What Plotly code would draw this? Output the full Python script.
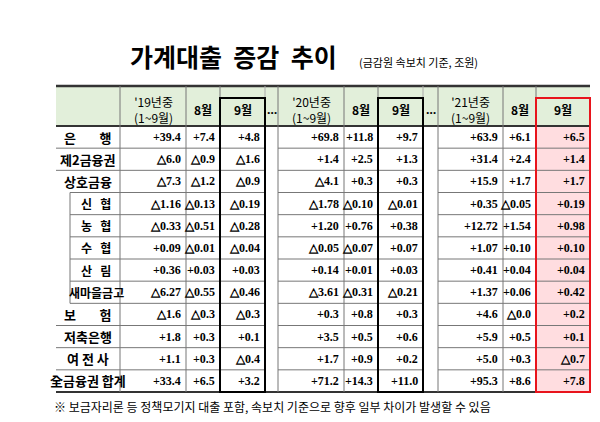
import plotly.graph_objects as go

rows = ["은        행", "제2금융권", "상호금융", "신   협", "농   협", "수   협", "산   림",
        "새마을금고", "보        험", "저축은행", "여 전 사", "全금융권 합계"]
col_heads = ["'19년중<br>(1~9월)", "8월", "9월", "'20년중<br>(1~9월)", "8월", "9월",
             "'21년중<br>(1~9월)", "8월", "9월"]
y19 = ["+39.4", "△6.0", "△7.3", "△1.16", "△0.33", "+0.09", "+0.36", "△6.27", "△1.6", "+1.8", "+1.1", "+33.4"]
aug19 = ["+7.4", "△0.9", "△1.2", "△0.13", "△0.51", "△0.01", "+0.03", "△0.55", "△0.3", "+0.3", "+0.3", "+6.5"]
sep19 = ["+4.8", "△1.6", "△0.9", "△0.19", "△0.28", "△0.04", "+0.03", "△0.46", "△0.3", "+0.1", "△0.4", "+3.2"]
y20 = ["+69.8", "+1.4", "△4.1", "△1.78", "+1.20", "△0.05", "+0.14", "△3.61", "+0.3", "+3.5", "+1.7", "+71.2"]
aug20 = ["+11.8", "+2.5", "+0.3", "△0.10", "+0.76", "△0.07", "+0.01", "△0.31", "+0.8", "+0.5", "+0.9", "+14.3"]
sep20 = ["+9.7", "+1.3", "+0.3", "△0.01", "+0.38", "+0.07", "+0.03", "△0.21", "+0.3", "+0.6", "+0.2", "+11.0"]
y21 = ["+63.9", "+31.4", "+15.9", "+0.35", "+12.72", "+1.07", "+0.41", "+1.37", "+4.6", "+5.9", "+5.0", "+95.3"]
aug21 = ["+6.1", "+2.4", "+1.7", "△0.05", "+1.54", "+0.10", "+0.04", "+0.06", "△0.0", "+0.5", "+0.3", "+8.6"]
sep21 = ["+6.5", "+1.4", "+1.7", "+0.19", "+0.98", "+0.10", "+0.04", "+0.42", "+0.2", "+0.1", "△0.7", "+7.8"]
cols = [y19, aug19, sep19, y20, aug20, sep20, y21, aug21, sep21]
indented = [3, 4, 5, 6, 7]

# layout geometry (pixels)
xb = [48, 112, 178, 212, 257, 270, 336, 370, 415, 430, 495, 528, 582]
data_cols = [(1, 2), (2, 3), (3, 4), (5, 6), (6, 7), (7, 8), (9, 10), (10, 11), (11, 12)]
y_top, y_head, y_bot = 78, 118, 384
rh = (y_bot - y_head) / len(rows)
font = "Noto Sans CJK KR"

fig = go.Figure()
shapes, ann = [], []
shapes.append(dict(type="rect", x0=xb[0], x1=xb[-1], y0=y_top, y1=y_head, fillcolor="#e2efda", line_width=0, layer="below"))
shapes.append(dict(type="rect", x0=xb[11], x1=xb[12], y0=y_head, y1=y_bot, fillcolor="#ffdde0", line_width=0, layer="below"))
shapes.append(dict(type="line", x0=xb[0], x1=xb[-1], y0=y_top, y1=y_top, line=dict(color="#333", width=2.5)))
shapes.append(dict(type="line", x0=xb[0], x1=xb[-1], y0=y_head, y1=y_head, line=dict(color="#333", width=2)))
shapes.append(dict(type="line", x0=xb[0], x1=xb[-1], y0=y_bot, y1=y_bot, line=dict(color="#333", width=2)))
for i in range(1, len(rows)):
    y = y_head + i * rh
    x0 = 62 if (i - 1) in indented or i in indented else xb[0]
    for a, b in [(x0, xb[4]), (xb[5], xb[8]), (xb[9], xb[12])]:
        shapes.append(dict(type="line", x0=a, x1=b, y0=y, y1=y, line=dict(color="#777", width=1)))
for i in [1, 2, 3, 5, 6, 7, 9, 10, 11]:
    shapes.append(dict(type="line", x0=xb[i], x1=xb[i], y0=y_top, y1=y_bot, line=dict(color="#777", width=1)))
for i in [4, 8]:
    shapes.append(dict(type="line", x0=xb[i], x1=xb[i], y0=y_top, y1=y_bot, line=dict(color="#aaa", width=1)))
shapes.append(dict(type="line", x0=62, x1=62, y0=y_head + 3 * rh, y1=y_head + 8 * rh, line=dict(color="#777", width=1)))
shapes.append(dict(type="rect", x0=xb[3], x1=xb[4], y0=y_top + 12, y1=y_bot, line=dict(color="black", width=2)))
shapes.append(dict(type="rect", x0=xb[7], x1=xb[8], y0=y_top + 12, y1=y_bot, line=dict(color="black", width=2)))
shapes.append(dict(type="rect", x0=xb[11], x1=xb[12], y0=y_top + 12, y1=y_bot, line=dict(color="#e8141c", width=2)))

for j, (a, b) in enumerate(data_cols):
    head = col_heads[j] if "<br>" in col_heads[j] else "<b>" + col_heads[j] + "</b>"
    ann.append(dict(x=(xb[a] + xb[b]) / 2, y=(y_top + y_head) / 2 + 3, text=head,
                    showarrow=False, font=dict(size=12, family=font, color="black")))
    for i, v in enumerate(cols[j]):
        ann.append(dict(x=xb[b] - 3, y=y_head + (i + 0.5) * rh, text="<b>" + v + "</b>",
                        xanchor="right", showarrow=False, font=dict(size=12, family="Liberation Serif", color="black")))
for xi in (4, 8):
    ann.append(dict(x=(xb[xi] + xb[xi + 1]) / 2, y=(y_top + y_head) / 2 + 3, text="<b>…</b>", showarrow=False, font=dict(size=12, color="black")))
for i, r in enumerate(rows):
    cx = (xb[0] + xb[1]) / 2 + (8 if i in indented else 0)
    ann.append(dict(x=cx, y=y_head + (i + 0.5) * rh, text="<b>" + r + "</b>", showarrow=False,
                    font=dict(size=13 if i not in indented else 12, family=font, color="black")))

ann.append(dict(x=225, y=48, text="<b>가계대출  증감  추이</b>", showarrow=False, font=dict(size=25, family=font, color="black")))
ann.append(dict(x=410, y=54, text="(금감원 속보치 기준, 조원)", showarrow=False, font=dict(size=11, family=font, color="black")))
ann.append(dict(x=44, y=398, xanchor="left", text="※ 보금자리론 등 정책모기지 대출 포함, 속보치 기준으로 향후 일부 차이가 발생할 수 있음",
                showarrow=False, font=dict(size=12, family=font, color="black")))

fig.update_layout(width=600, height=422, margin=dict(l=0, r=0, t=0, b=0), plot_bgcolor="white", paper_bgcolor="white",
                  shapes=shapes, annotations=ann, showlegend=False,
                  xaxis=dict(range=[0, 600], visible=False, fixedrange=True),
                  yaxis=dict(range=[422, 0], visible=False, fixedrange=True))
fig.write_html("out.html")
